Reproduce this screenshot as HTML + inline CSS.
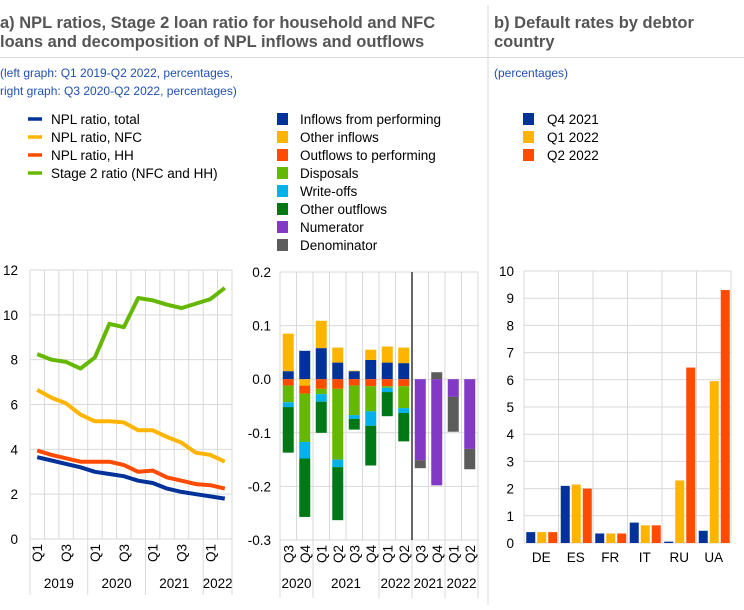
<!DOCTYPE html>
<html><head><meta charset="utf-8"><style>
body{margin:0;background:#fff;width:744px;height:605px;overflow:hidden;font-family:"Liberation Sans",Arial,sans-serif}
</style></head><body>
<svg id="s" width="744" height="605" xmlns="http://www.w3.org/2000/svg" font-family="Liberation Sans, Arial, sans-serif">
<line x1="488" y1="5" x2="488" y2="605" stroke="#d9d9d9" stroke-width="1"/>
<line x1="0" y1="57.5" x2="744" y2="57.5" stroke="#d9d9d9" stroke-width="1"/>
<g font-weight="bold" font-size="16.5" fill="#555">
<text x="0" y="28">a) NPL ratios, Stage 2 loan ratio for household and NFC</text>
<text x="0" y="47">loans and decomposition of NPL inflows and outflows</text>
<text x="494" y="28">b) Default rates by debtor</text>
<text x="494" y="47">country</text>
</g>
<g font-size="12" fill="#2050b0">
<text x="0" y="77">(left graph: Q1 2019-Q2 2022, percentages,</text>
<text x="0" y="95">right graph: Q3 2020-Q2 2022, percentages)</text>
<text x="494" y="77">(percentages)</text>
</g>
<g id="g"></g>
</svg>
<script>
const g=document.getElementById('g');let h='';
const C={b:'#003299',y:'#ffb400',r:'#ff4b00',gr:'#65b800',lb:'#00b1ea',dg:'#007816',p:'#8139c6',gy:'#5c5c5c'};
function T(x,y,t,a,ex){h+=`<text x="${x}" y="${y}" font-size="13.5" fill="#000" ${a?'text-anchor="'+a+'"':''} ${ex||''}>${t}</text>`}
function L(x1,y1,x2,y2,c,w){h+=`<line x1="${x1}" y1="${y1}" x2="${x2}" y2="${y2}" stroke="${c}" stroke-width="${w||1}"/>`}
function R(x,y,w,hh,c){if(hh<0){y+=hh;hh=-hh}h+=`<rect x="${x}" y="${y}" width="${w}" height="${hh}" fill="${c}"/>`}
// legends
[['NPL ratio, total',C.b],['NPL ratio, NFC',C.y],['NPL ratio, HH',C.r],['Stage 2 ratio (NFC and HH)',C.gr]].forEach((d,i)=>{let y=119+i*18;L(28,y,42,y,d[1],3.5);T(51,y+5,d[0])});
[['Inflows from performing',C.b],['Other inflows',C.y],['Outflows to performing',C.r],['Disposals',C.gr],['Write-offs',C.lb],['Other outflows',C.dg],['Numerator',C.p],['Denominator',C.gy]].forEach((d,i)=>{let y=119+i*18;R(277,y-6,11,12,d[1]);T(300,y+5,d[0])});
[['Q4 2021',C.b],['Q1 2022',C.y],['Q2 2022',C.r]].forEach((d,i)=>{let y=119+i*18;R(523,y-6,11,12,d[1]);T(547,y+5,d[0])});
// left chart
let x0=30,cw=14.43,n=14,yt=270,yb=539;
const ly=v=>yb-v*(yb-yt)/12;
for(let v=0;v<=12;v+=2){L(x0,ly(v),x0+n*cw,ly(v),'#d9d9d9');T(18,ly(v)+5,v,'end')}
for(let i=0;i<=n;i++)L(x0+i*cw,yt,x0+i*cw,yb,'#d9d9d9');
const qs=['Q1','Q2','Q3','Q4'];
for(let i=0;i<n;i+=2){let cx=x0+(i+.5)*cw;T(0,0,qs[i%4],null,`transform="translate(${cx+5},562) rotate(-90)" font-size="13"`)}
[[0,4,'2019'],[4,8,'2020'],[8,12,'2021'],[12,14,'2022']].forEach(d=>{T(x0+(d[0]+d[1])/2*cw,588,d[2],'middle');L(x0+d[0]*cw,yb,x0+d[0]*cw,595,'#d9d9d9')});
L(x0+n*cw,yb,x0+n*cw,595,'#d9d9d9');
const S=[[C.gr,[8.25,8.0,7.9,7.6,8.1,9.6,9.45,10.75,10.65,10.45,10.3,10.5,10.7,11.2]],
[C.y,[6.65,6.3,6.05,5.55,5.25,5.25,5.2,4.85,4.85,4.55,4.3,3.85,3.75,3.45]],
[C.r,[3.95,3.75,3.6,3.45,3.45,3.45,3.3,3.0,3.05,2.75,2.6,2.45,2.4,2.25]],
[C.b,[3.65,3.5,3.35,3.2,3.0,2.9,2.8,2.6,2.5,2.25,2.1,2.0,1.9,1.8]]];
S.forEach(s=>{h+=`<polyline fill="none" stroke="${s[0]}" stroke-width="4" stroke-linejoin="round" points="${s[1].map((v,i)=>(x0+(i+.5)*cw).toFixed(1)+','+ly(v).toFixed(1)).join(' ')}"/>`});
// middle chart
let m0=280,mw=16.5,mn=12,mt=272,mb=540;
const my=v=>mt+(0.2-v)*(mb-mt)/0.5;
for(let k=0;k<=5;k++){let v=0.2-k*0.1;L(m0,my(v),m0+mn*mw,my(v),'#d9d9d9');T(271,my(v)+5,v.toFixed(1).replace('-0.0','0.0'),'end')}
for(let i=0;i<=mn;i++)L(m0+i*mw,mt,m0+i*mw,mb,'#d9d9d9');
const mq=['Q3','Q4','Q1','Q2','Q3','Q4','Q1','Q2','Q3','Q4','Q1','Q2'];
mq.forEach((q,i)=>{let cx=m0+(i+.5)*mw;T(0,0,q,null,`transform="translate(${cx+5},563) rotate(-90)" font-size="13"`)});
[[0,2,'2020'],[2,6,'2021'],[6,8,'2022'],[8,10,'2021'],[10,12,'2022']].forEach(d=>{T(m0+(d[0]+d[1])/2*mw,588,d[2],'middle');L(m0+d[0]*mw,mb,m0+d[0]*mw,598,'#d9d9d9')});
L(m0+mn*mw,mb,m0+mn*mw,598,'#d9d9d9');
const pos=[[.015,.085],[.053,.053],[.058,.109],[.031,.059],[.015,.016],[.036,.055],[.031,.061],[.03,.059]];
const neg=[[-.012,-.043,-.052,-.137],[-.012,-.027,-.117,-.148,-.257],[-.018,-.028,-.042,-.1],[-.018,-.15,-.164,-.263],[-.012,-.067,-.074,-.094],[-.013,-.06,-.087,-.161],[-.013,-.016,-.024,-.069],[-.013,-.054,-.063,-.116]];
const bw=11;
function seg(i,a,b,c){let x=m0+(i+.5)*mw-bw/2;R(x,my(a),bw,my(b)-my(a),c)}
pos.forEach((p,i)=>{seg(i,0,p[0],C.b);seg(i,p[0],p[1],C.y)});
neg.forEach((p,i)=>{let cs=p.length==5?[C.y,C.r,C.gr,C.lb,C.dg]:[C.r,C.gr,C.lb,C.dg];let prev=0;p.forEach((v,j)=>{seg(i,prev,v,cs[j]);prev=v})});
seg(8,0,-.151,C.p);seg(8,-.151,-.166,C.gy);
seg(9,0,.013,C.gy);seg(9,0,-.198,C.p);
seg(10,0,-.033,C.p);seg(10,-.033,-.098,C.gy);
seg(11,0,-.13,C.p);seg(11,-.13,-.168,C.gy);
L(m0+8*mw,mt,m0+8*mw,mb,'#666',2);
// right chart
let r0=524,rw=34.5,rt=271,rb=543;
const ry=v=>rb-v*(rb-rt)/10;
for(let v=0;v<=10;v++){L(r0,ry(v),r0+6*rw,ry(v),'#d9d9d9');T(514,ry(v)+5,v,'end')}
for(let i=0;i<=6;i++)L(r0+i*rw,rt,r0+i*rw,rb,'#d9d9d9');
const rd=[['DE',[.4,.4,.4]],['ES',[2.1,2.15,2.0]],['FR',[.35,.35,.35]],['IT',[.75,.65,.65]],['RU',[.05,2.3,6.45]],['UA',[.45,5.95,9.3]]];
rd.forEach((d,i)=>{let cx=r0+(i+.5)*rw;[C.b,C.y,C.r].forEach((c,j)=>R(cx-15+j*11,rb,9,ry(d[1][j])-rb,c));T(cx,562,d[0],'middle')});
g.innerHTML=h;
</script>
</body></html>
